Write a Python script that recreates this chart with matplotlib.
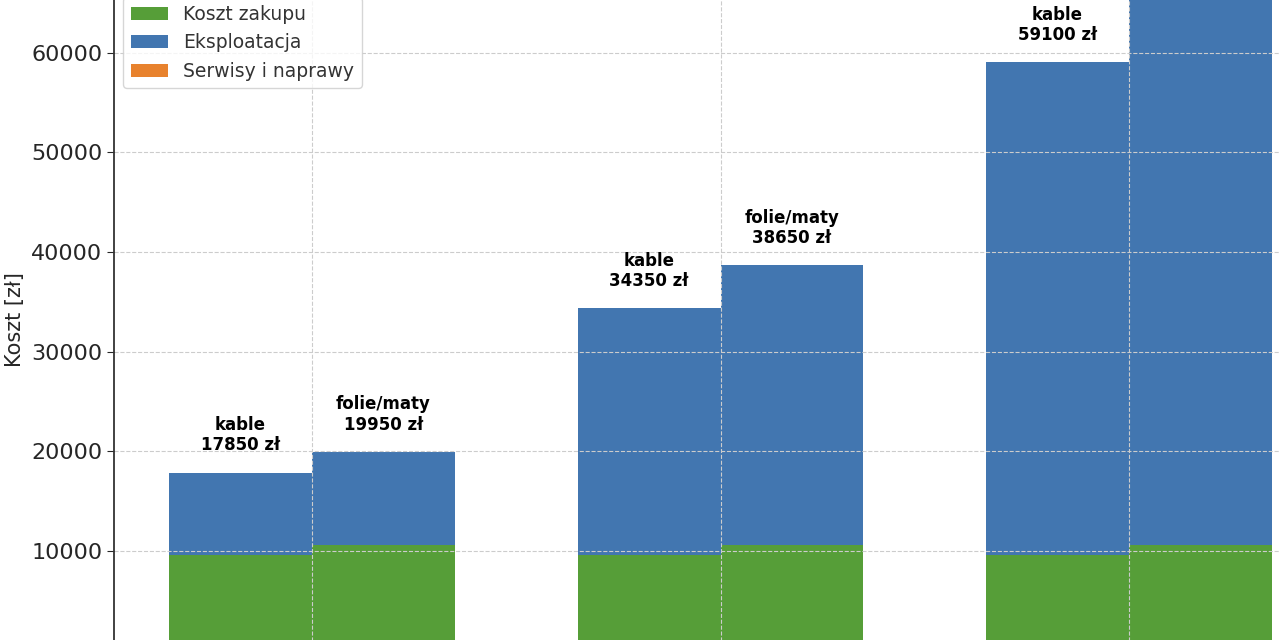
import numpy as np
import matplotlib.pyplot as plt

# Koszty ogrzewania podlogowego w trzech okresach (wartosci w zl)
x = np.arange(3)
kable_zakup = [9600, 9600, 9600]
kable_eksploatacja = [8250, 24750, 49500]
kable_serwis = [0, 0, 0]
folie_zakup = [10600, 10600, 10600]
folie_eksploatacja = [9350, 28050, 56100]
folie_serwis = [0, 0, 0]
systemy = ['kable', 'folie/maty']

c_zakup = '#569e38'
c_eksp = '#4276b0'
c_serwis = '#e8822d'
width = 0.35

fig = plt.figure(figsize=(12.8, 6.4), dpi=100)
# figure shows only a part of the axes (cropped like the reference)
ax = fig.add_axes([114 / 1280, -10.3 / 640, (1327 - 114) / 1280, 662.3 / 640])

for off, zak, eks, ser, name in [(-width / 2, kable_zakup, kable_eksploatacja, kable_serwis, systemy[0]),
                                 (width / 2, folie_zakup, folie_eksploatacja, folie_serwis, systemy[1])]:
    zak = np.array(zak)
    eks = np.array(eks)
    ser = np.array(ser)
    ax.bar(x + off, zak, width, color=c_zakup, label='Koszt zakupu' if off < 0 else None)
    ax.bar(x + off, eks, width, bottom=zak, color=c_eksp, label='Eksploatacja' if off < 0 else None)
    ax.bar(x + off, ser, width, bottom=zak + eks, color=c_serwis, label='Serwisy i naprawy' if off < 0 else None)
    total = zak + eks + ser
    for xi, t in zip(x + off, total):
        ax.annotate('{}\n{} zł'.format(name, t), (xi, t), xytext=(0, 13), textcoords='offset points',
                    ha='center', va='bottom', fontsize=12, fontweight='bold', linespacing=1.15,
                    annotation_clip=False)

ax.set_xlim(-0.485, 2.485)
ax.set_ylim(0, 66500)
ax.set_xticks(x)
ax.set_yticks(np.arange(10000, 70000, 10000))
ax.tick_params(labelbottom=False, labelsize=16, colors='#262626', length=5)
ax.set_ylabel('Koszt [zł]', fontsize=15, color='#262626')
ax.yaxis.set_label_coords(-0.073, 0.5)
ax.grid(True, linestyle='--', color='#cccccc', linewidth=0.8)
for s in ['top', 'right', 'bottom']:
    ax.spines[s].set_visible(False)
ax.spines['left'].set_color('#333333')
ax.spines['left'].set_linewidth(1.3)

ax.legend(loc='upper left', fontsize=13.5, labelcolor='#333333')

fig.savefig('out.png', dpi=100)
